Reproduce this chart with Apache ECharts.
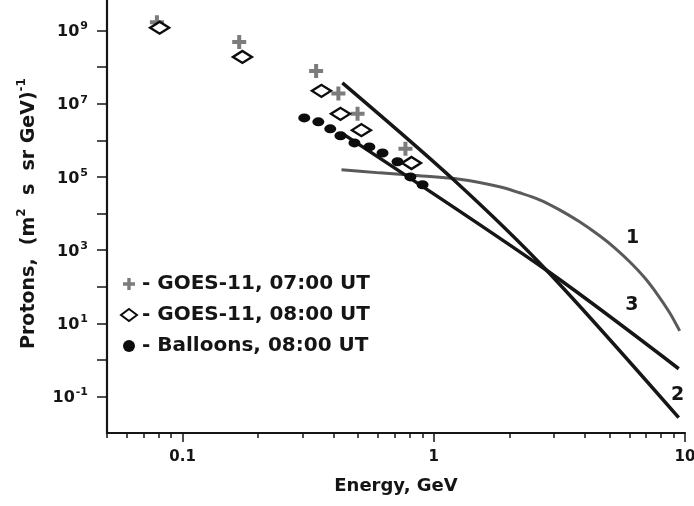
<!DOCTYPE html>
<html>
<head>
<meta charset="utf-8">
<script src="https://cdn.jsdelivr.net/npm/echarts@6/dist/echarts.min.js"></script>
<style>
  html, body { margin: 0; padding: 0; background: #fff; }
  #chart { width: 694px; height: 506px; }
</style>
</head>
<body>
<div id="chart"></div>
<script>
// GOES-11, 07:00 UT (crosses)
var plusE = [0.079, 0.168, 0.340, 0.417, 0.497, 0.771];
var plusF = [1.7e9, 4.9e8, 7.9e7, 1.9e7, 5.3e6, 5.9e5];
// GOES-11, 08:00 UT (open diamonds)
var diamondE = [0.081, 0.173, 0.357, 0.425, 0.515, 0.815];
var diamondF = [1.2e9, 1.9e8, 2.25e7, 5.3e6, 1.9e6, 2.4e5];
// Balloons, 08:00 UT (black dots)
var balloonE = [0.305, 0.347, 0.387, 0.425, 0.483, 0.554, 0.625, 0.717, 0.807, 0.902];
var balloonF = [4.1e6, 3.2e6, 2.06e6, 1.33e6, 8.5e5, 6.6e5, 4.5e5, 2.6e5, 1.0e5, 6.1e4];

// model curves 1, 2, 3
var curve1E = [0.429, 0.608, 0.877, 1.266, 1.827, 2.193, 2.637, 3.168, 3.806, 4.572, 5.248, 6.023, 6.91, 7.785, 8.69, 9.526];
var curve1F = [1.56e5, 1.29e5, 1.07e5, 8.6e4, 5.37e4, 3.68e4, 2.37e4, 1.26e4, 5.93e3, 2.46e3, 1156, 479, 175, 60.1, 19.4, 6.2];
var curve2E = [0.4325, 1.187, 2.81, 9.44];
var curve2F = [3.72e7, 8.87e4, 280, 0.0262];
var curve3E = [0.4287, 2.81, 9.44];
var curve3F = [1.6e6, 280, 0.571];

// curve number labels
var curveNames = ['1', '3', '2'];
var curveNameE = [6.19, 6.14, 9.35];
var curveNameF = [2170, 32, 0.111];

// axis ticks
var xLabels = [0.1, 1, 10];
var xMinorTicks = [0.05, 0.06, 0.07, 0.08, 0.09, 0.2, 0.3, 0.4, 0.5, 0.6, 0.7, 0.8, 0.9, 2, 3, 4, 5, 6, 7, 8, 9];
var yTicks = [0.1, 1, 10, 100, 1e3, 1e4, 1e5, 1e6, 1e7, 1e8, 1e9];
var yLabels = [0.1, 10, 1e3, 1e5, 1e7, 1e9];

var font = 'DejaVu Sans';
var ink = '#151515';
var plusPath = 'path://M5,0H9V5H14V9H9V14H5V9H0V5H5Z';

function pairs(xs, ys) {
  return xs.map(function (x, i) { return [x, ys[i]]; });
}

var chartDom = document.getElementById('chart');
var myChart = echarts.init(chartDom, null, { renderer: 'canvas' });
var option;

var boldText = { fontFamily: font, fontWeight: 'bold', color: ink };

option = {
  animation: false,
  backgroundColor: '#fff',
  grid: {
    left: 107,
    right: 9,
    top: -6,
    bottom: 73,
    containLabel: false,
    outerBoundsMode: 'none'
  },
  legend: {
    data: [
      { name: 'GOES-11, 07:00 UT', icon: plusPath },
      { name: 'GOES-11, 08:00 UT', icon: 'diamond' },
      { name: 'Balloons, 08:00 UT', icon: 'circle' }
    ],
    formatter: '- {name}',
    orient: 'vertical',
    left: 120,
    top: 274,
    padding: 0,
    itemWidth: 16,
    itemHeight: 12,
    itemGap: 11,
    selectedMode: false,
    textStyle: Object.assign({ fontSize: 20, lineHeight: 20 }, boldText)
  },
  xAxis: [
    {
      type: 'log',
      logBase: 10,
      min: 0.05,
      max: 10,
      position: 'bottom',
      axisLine: { show: true, lineStyle: { color: ink, width: 2.2 } },
      axisTick: { show: true, length: 9, customValues: xLabels, lineStyle: { color: ink, width: 1.5 } },
      axisLabel: {
        customValues: xLabels,
        margin: 17,
        fontSize: 15,
        fontFamily: font,
        fontWeight: 'bold',
        color: ink,
        formatter: function (v) { return String(+v.toPrecision(3)); }
      },
      splitLine: { show: false },
      name: 'Energy, GeV',
      nameLocation: 'middle',
      nameGap: 44,
      nameTextStyle: Object.assign({ fontSize: 18 }, boldText)
    },
    {
      type: 'log',
      logBase: 10,
      min: 0.05,
      max: 10,
      position: 'bottom',
      axisLine: { show: false },
      axisTick: { show: true, length: 5, customValues: xMinorTicks, lineStyle: { color: ink, width: 1.5 } },
      axisLabel: { show: false },
      splitLine: { show: false }
    }
  ],
  yAxis: {
    type: 'log',
    logBase: 10,
    min: 0.01,
    max: 1e10,
    axisLine: { show: true, lineStyle: { color: ink, width: 2.2 } },
    axisTick: { show: true, length: 10, customValues: yTicks, lineStyle: { color: ink, width: 1.5 } },
    axisLabel: {
      customValues: yLabels,
      margin: 19,
      formatter: function (v) {
        var p = Math.round(Math.log10(v));
        return '{n|10}{e|' + p + '}';
      },
      rich: {
        n: { fontSize: 16, fontFamily: font, fontWeight: 'bold', color: ink, lineHeight: 19, verticalAlign: 'bottom' },
        e: { fontSize: 11, fontFamily: font, fontWeight: 'bold', color: ink, lineHeight: 19, verticalAlign: 'top', padding: [0, 0, 0, 1] }
      }
    },
    splitLine: { show: false },
    name: '{a|Protons,  (m}{s|2}{a|  s  sr GeV)}{s|-1}',
    nameLocation: 'middle',
    nameGap: 68,
    nameTextStyle: {
      rich: {
        a: { fontSize: 19, fontFamily: font, fontWeight: 'bold', color: ink, lineHeight: 23, verticalAlign: 'bottom' },
        s: { fontSize: 12, fontFamily: font, fontWeight: 'bold', color: ink, lineHeight: 23, verticalAlign: 'top' }
      }
    }
  },
  series: [
    {
      name: 'curve 1',
      type: 'line',
      data: pairs(curve1E, curve1F),
      smooth: 0.3,
      showSymbol: false,
      lineStyle: { color: '#5a5a5a', width: 3 },
      z: 2
    },
    {
      name: 'curve 2',
      type: 'line',
      data: pairs(curve2E, curve2F),
      smooth: 0.3,
      showSymbol: false,
      lineStyle: { color: '#161616', width: 3.5 },
      z: 2
    },
    {
      name: 'curve 3',
      type: 'line',
      data: pairs(curve3E, curve3F),
      smooth: 0.3,
      showSymbol: false,
      lineStyle: { color: '#161616', width: 3.5 },
      z: 2
    },
    {
      name: 'curve labels',
      type: 'scatter',
      data: curveNames.map(function (t, i) { return { name: t, value: [curveNameE[i], curveNameF[i]] }; }),
      symbolSize: 0,
      itemStyle: { opacity: 1 },
      label: {
        show: true,
        position: 'inside',
        formatter: '{b}',
        fontSize: 19,
        fontFamily: font,
        fontWeight: 'bold',
        color: ink
      },
      z: 3
    },
    {
      name: 'GOES-11, 07:00 UT',
      type: 'scatter',
      data: pairs(plusE, plusF),
      symbol: plusPath,
      symbolSize: 14,
      itemStyle: { color: '#7c7c7c', opacity: 1 },
      z: 4
    },
    {
      name: 'Balloons, 08:00 UT',
      type: 'scatter',
      data: pairs(balloonE, balloonF),
      symbol: 'circle',
      symbolSize: [12, 9],
      itemStyle: { color: '#0d0d0d', opacity: 1 },
      z: 4
    },
    {
      name: 'GOES-11, 08:00 UT',
      type: 'scatter',
      data: pairs(diamondE, diamondF),
      symbol: 'diamond',
      symbolSize: [19, 12],
      itemStyle: { color: '#fff', borderColor: '#0d0d0d', borderWidth: 2.5, opacity: 1 },
      z: 5
    }
  ]
};

option && myChart.setOption(option);
</script>
</body>
</html>
